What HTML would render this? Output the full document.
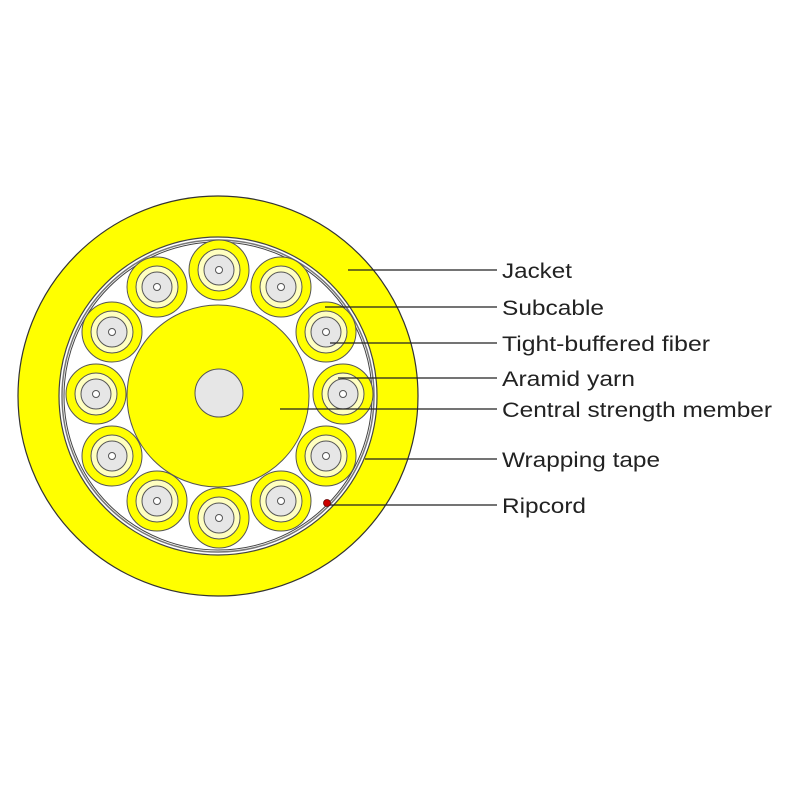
<!DOCTYPE html>
<html><head><style>body{margin:0;background:#fff}svg{display:block}</style></head><body>
<svg width="800" height="800" viewBox="0 0 800 800" xmlns="http://www.w3.org/2000/svg">
<circle cx="218" cy="396" r="200" fill="#ffff00" stroke="#333" stroke-width="1.2"/>
<circle cx="218" cy="396" r="159" fill="#fff" stroke="#444" stroke-width="1.2"/>
<circle cx="218" cy="396" r="156" fill="none" stroke="#777" stroke-width="1.5"/>
<circle cx="218" cy="396" r="154" fill="none" stroke="#444" stroke-width="1"/>
<circle cx="218" cy="396" r="91" fill="#ffff00" stroke="#555" stroke-width="1"/>
<circle cx="219" cy="393" r="24" fill="#e6e6e6" stroke="#555" stroke-width="1"/>
<g>
<g transform="translate(219,270)"><circle r="30" fill="#ff0" stroke="#555"/><circle r="21" fill="#ffffc0" stroke="#555"/><circle r="15" fill="#e6e6e6" stroke="#555"/><circle r="3.5" fill="#fff" stroke="#555"/></g>
<g transform="translate(281,287)"><circle r="30" fill="#ff0" stroke="#555"/><circle r="21" fill="#ffffc0" stroke="#555"/><circle r="15" fill="#e6e6e6" stroke="#555"/><circle r="3.5" fill="#fff" stroke="#555"/></g>
<g transform="translate(326,332)"><circle r="30" fill="#ff0" stroke="#555"/><circle r="21" fill="#ffffc0" stroke="#555"/><circle r="15" fill="#e6e6e6" stroke="#555"/><circle r="3.5" fill="#fff" stroke="#555"/></g>
<g transform="translate(343,394)"><circle r="30" fill="#ff0" stroke="#555"/><circle r="21" fill="#ffffc0" stroke="#555"/><circle r="15" fill="#e6e6e6" stroke="#555"/><circle r="3.5" fill="#fff" stroke="#555"/></g>
<g transform="translate(326,456)"><circle r="30" fill="#ff0" stroke="#555"/><circle r="21" fill="#ffffc0" stroke="#555"/><circle r="15" fill="#e6e6e6" stroke="#555"/><circle r="3.5" fill="#fff" stroke="#555"/></g>
<g transform="translate(281,501)"><circle r="30" fill="#ff0" stroke="#555"/><circle r="21" fill="#ffffc0" stroke="#555"/><circle r="15" fill="#e6e6e6" stroke="#555"/><circle r="3.5" fill="#fff" stroke="#555"/></g>
<g transform="translate(219,518)"><circle r="30" fill="#ff0" stroke="#555"/><circle r="21" fill="#ffffc0" stroke="#555"/><circle r="15" fill="#e6e6e6" stroke="#555"/><circle r="3.5" fill="#fff" stroke="#555"/></g>
<g transform="translate(157,501)"><circle r="30" fill="#ff0" stroke="#555"/><circle r="21" fill="#ffffc0" stroke="#555"/><circle r="15" fill="#e6e6e6" stroke="#555"/><circle r="3.5" fill="#fff" stroke="#555"/></g>
<g transform="translate(112,456)"><circle r="30" fill="#ff0" stroke="#555"/><circle r="21" fill="#ffffc0" stroke="#555"/><circle r="15" fill="#e6e6e6" stroke="#555"/><circle r="3.5" fill="#fff" stroke="#555"/></g>
<g transform="translate(96,394)"><circle r="30" fill="#ff0" stroke="#555"/><circle r="21" fill="#ffffc0" stroke="#555"/><circle r="15" fill="#e6e6e6" stroke="#555"/><circle r="3.5" fill="#fff" stroke="#555"/></g>
<g transform="translate(112,332)"><circle r="30" fill="#ff0" stroke="#555"/><circle r="21" fill="#ffffc0" stroke="#555"/><circle r="15" fill="#e6e6e6" stroke="#555"/><circle r="3.5" fill="#fff" stroke="#555"/></g>
<g transform="translate(157,287)"><circle r="30" fill="#ff0" stroke="#555"/><circle r="21" fill="#ffffc0" stroke="#555"/><circle r="15" fill="#e6e6e6" stroke="#555"/><circle r="3.5" fill="#fff" stroke="#555"/></g>
</g>
<g stroke="#222" stroke-width="1.2">
<line x1="348" y1="270" x2="497" y2="270"/>
<line x1="325" y1="307" x2="497" y2="307"/>
<line x1="330" y1="343" x2="497" y2="343"/>
<line x1="338" y1="378" x2="497" y2="378"/>
<line x1="280" y1="409" x2="497" y2="409"/>
<line x1="365" y1="459" x2="497" y2="459"/>
<line x1="326" y1="505" x2="497" y2="505"/>
</g>
<circle cx="327" cy="503" r="3.5" fill="#c00" stroke="#600" stroke-width="0.8"/>
<g font-family="Liberation Sans, sans-serif" font-size="21" fill="#222" lengthAdjust="spacingAndGlyphs">
<text x="502" y="278" textLength="70" lengthAdjust="spacingAndGlyphs">Jacket</text>
<text x="502" y="315" textLength="102" lengthAdjust="spacingAndGlyphs">Subcable</text>
<text x="502" y="351" textLength="208" lengthAdjust="spacingAndGlyphs">Tight-buffered fiber</text>
<text x="502" y="386" textLength="133" lengthAdjust="spacingAndGlyphs">Aramid yarn</text>
<text x="502" y="417" textLength="270" lengthAdjust="spacingAndGlyphs">Central strength member</text>
<text x="502" y="467" textLength="158" lengthAdjust="spacingAndGlyphs">Wrapping tape</text>
<text x="502" y="513" textLength="84" lengthAdjust="spacingAndGlyphs">Ripcord</text>
</g>
</svg>
</body></html>
